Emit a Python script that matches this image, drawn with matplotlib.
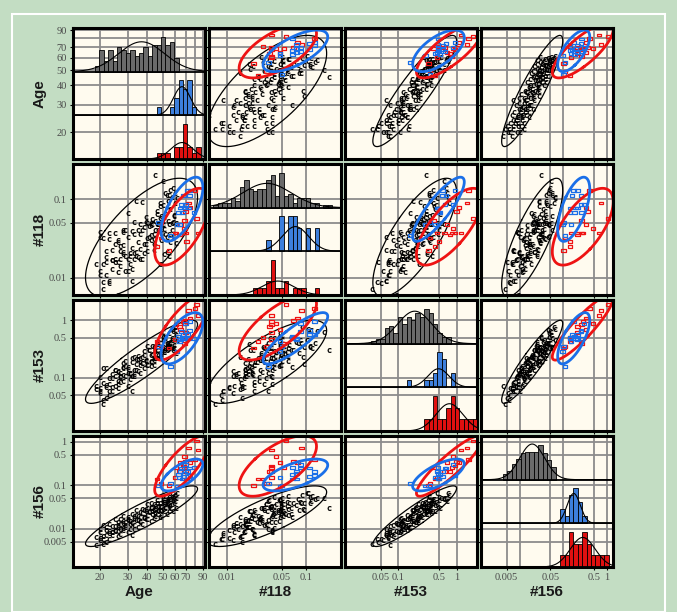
import numpy as np
import matplotlib
matplotlib.use('Agg')
import matplotlib.pyplot as plt
from matplotlib.ticker import NullLocator

# ---- data ----
names = ['Age', '#118', '#153', '#156']

# black group ("c" markers)
ctl_age = [19, 19, 20, 20, 20, 21, 21, 21, 22, 22, 22, 23, 23, 23, 24, 24, 24, 25, 25, 25,
           26, 26, 26, 27, 27, 28, 28, 28, 28, 29, 29, 30, 30, 31, 31, 32, 32, 33, 33, 34,
           34, 35, 35, 36, 36, 37, 37, 38, 39, 39, 40, 40, 41, 42, 42, 43, 44, 44, 45, 45,
           46, 46, 47, 47, 48, 48, 49, 49, 50, 50, 51, 51, 52, 52, 53, 53, 54, 54, 55, 55,
           55, 56, 56, 57, 57, 58, 58, 59, 60, 61, 62, 24, 30, 36, 42, 48, 27, 33, 38, 44,
           45, 26, 50, 21, 32,
           20, 22, 23, 25, 26, 27, 28, 29, 30, 31, 32, 33, 34, 35, 36, 37, 38, 39, 40, 41,
           42, 43, 44, 45, 46, 47, 48, 49, 50, 51, 52, 53, 54, 55, 56, 57, 58, 59, 60, 61]
ctl_118 = [0.0149, 0.0053, 0.0332, 0.0107, 0.0379, 0.0088, 0.0323, 0.0151, 0.0107, 0.0159,
           0.0184, 0.0374, 0.0085, 0.0314, 0.0167, 0.0130, 0.0222, 0.0264, 0.0371, 0.0159,
           0.0156, 0.0281, 0.0119, 0.0221, 0.0254, 0.0403, 0.0199, 0.0213, 0.0379, 0.0122,
           0.0408, 0.0123, 0.0668, 0.0187, 0.0208, 0.0389, 0.0130, 0.0518, 0.0173, 0.0957,
           0.0188, 0.0408, 0.0185, 0.0229, 0.0480, 0.0172, 0.0927, 0.0203, 0.0507, 0.0264,
           0.0319, 0.0490, 0.0329, 0.0462, 0.0350, 0.0475, 0.0265, 0.0313, 0.0533, 0.0401,
           0.0644, 0.0480, 0.0475, 0.0484, 0.0149, 0.0881, 0.0370, 0.0602, 0.0465, 0.0483,
           0.0583, 0.0200, 0.119, 0.0358, 0.112, 0.0214, 0.0811, 0.0520, 0.0190, 0.112,
           0.0362, 0.131, 0.0286, 0.107, 0.0500, 0.0343, 0.0510, 0.0602, 0.118, 0.0274,
           0.103, 0.0167, 0.0170, 0.0360, 0.0493, 0.0814, 0.0175, 0.0207, 0.0443, 0.0224,
           0.20, 0.006, 0.17, 0.0072, 0.009,
           0.012, 0.022, 0.009, 0.017, 0.030, 0.014, 0.026, 0.019, 0.033, 0.015,
           0.024, 0.036, 0.021, 0.028, 0.017, 0.040, 0.027, 0.060, 0.022, 0.045,
           0.030, 0.055, 0.036, 0.025, 0.070, 0.040, 0.058, 0.030, 0.085, 0.042,
           0.065, 0.033, 0.095, 0.048, 0.075, 0.040, 0.140, 0.062, 0.090, 0.050]
ctl_153 = [0.065, 0.072, 0.060, 0.066, 0.105, 0.042, 0.148, 0.082, 0.070, 0.045,
           0.150, 0.078, 0.050, 0.100, 0.100, 0.115, 0.060, 0.140, 0.140, 0.072,
           0.066, 0.125, 0.130, 0.084, 0.105, 0.150, 0.180, 0.112, 0.155, 0.107,
           0.200, 0.072, 0.155, 0.115, 0.120, 0.218, 0.110, 0.235, 0.135, 0.175,
           0.215, 0.239, 0.130, 0.190, 0.171, 0.180, 0.235, 0.150, 0.200, 0.205,
           0.362, 0.170, 0.310, 0.162, 0.200, 0.355, 0.207, 0.220, 0.360, 0.297,
           0.300, 0.385, 0.226, 0.250, 0.230, 0.398, 0.265, 0.245, 0.505, 0.350,
           0.285, 0.305, 0.335, 0.485, 0.358, 0.305, 0.410, 0.317, 0.385, 0.340,
           0.327, 0.400, 0.350, 0.718, 0.460, 0.325, 0.302, 0.335, 0.680, 0.267,
           0.460, 0.070, 0.143, 0.220, 0.250, 0.275, 0.110, 0.118, 0.296, 0.170,
           0.30, 0.09, 0.62, 0.035, 0.06,
           0.055, 0.075, 0.060, 0.110, 0.080, 0.120, 0.090, 0.160, 0.120, 0.095,
           0.190, 0.110, 0.140, 0.210, 0.120, 0.180, 0.250, 0.200, 0.170, 0.300,
           0.190, 0.260, 0.350, 0.220, 0.300, 0.420, 0.240, 0.330, 0.450, 0.280,
           0.520, 0.400, 0.350, 0.600, 0.420, 0.500, 0.650, 0.380, 0.750, 0.550]
ctl_156 = [0.0065, 0.0042, 0.0099, 0.0060, 0.0085, 0.0058, 0.0123, 0.0069, 0.0091, 0.0050,
           0.0108, 0.0090, 0.0059, 0.0126, 0.0082, 0.0115, 0.0072, 0.0165, 0.0093, 0.0113,
           0.0066, 0.0143, 0.0110, 0.0076, 0.0164, 0.0106, 0.0150, 0.0094, 0.0200, 0.0119,
           0.0145, 0.0084, 0.0182, 0.0148, 0.0096, 0.0218, 0.0133, 0.0197, 0.0123, 0.0275,
           0.0155, 0.0199, 0.0109, 0.0247, 0.0190, 0.0129, 0.0277, 0.0176, 0.0260, 0.0163,
           0.0362, 0.0203, 0.0259, 0.0147, 0.0319, 0.0255, 0.0172, 0.0371, 0.0234, 0.0330,
           0.0214, 0.0456, 0.0266, 0.0326, 0.0184, 0.0398, 0.0317, 0.0206, 0.0459, 0.0279,
           0.0407, 0.0254, 0.0560, 0.0315, 0.0398, 0.0217, 0.0485, 0.0373, 0.0250, 0.0539,
           0.0327, 0.0475, 0.0297, 0.0653, 0.0367, 0.0462, 0.0252, 0.0562, 0.0445, 0.0297,
           0.0658, 0.0082, 0.0168, 0.0143, 0.0392, 0.0275, 0.0129, 0.0098, 0.0269, 0.0265,
           0.030, 0.009, 0.052, 0.0045, 0.007,
           0.0055, 0.0070, 0.0078, 0.0088, 0.0120, 0.0100, 0.0135, 0.0110, 0.0160, 0.0125,
           0.0140, 0.0175, 0.0210, 0.0160, 0.0150, 0.0230, 0.0190, 0.0280, 0.0170, 0.0240,
           0.0300, 0.0220, 0.0290, 0.0200, 0.0380, 0.0250, 0.0340, 0.0270, 0.0420, 0.0360,
           0.0300, 0.0440, 0.0400, 0.0480, 0.0350, 0.0550, 0.0500, 0.0380, 0.0600, 0.0520]

# blue group
blu_age = [47, 56, 62, 63, 64, 65, 66, 67, 68, 69, 70, 72, 73, 74, 75, 79]
blu_118 = [0.050, 0.034, 0.047, 0.068, 0.047, 0.077, 0.086, 0.068, 0.112, 0.077, 0.086, 0.13,
           0.077, 0.112, 0.13, 0.068]
blu_153 = [0.35, 0.16, 0.29, 0.52, 0.43, 0.46, 0.64, 0.50, 0.57, 0.48, 0.87, 0.57, 0.48, 0.66,
           0.94, 0.48]
blu_156 = [0.10, 0.11, 0.096, 0.18, 0.15, 0.21, 0.25, 0.14, 0.16, 0.19, 0.30, 0.21, 0.14, 0.25,
           0.17, 0.26]

# red group
red_age = [46, 49, 55, 60, 61, 64, 65, 68, 69, 69, 70, 70, 71, 73, 75, 80, 82, 84]
red_118 = [0.025, 0.032, 0.022, 0.037, 0.037, 0.035, 0.047, 0.037, 0.042, 0.053, 0.070, 0.037,
           0.029, 0.089, 0.079, 0.13, 0.056, 0.037]
red_153 = [0.43, 0.35, 0.33, 0.46, 0.84, 0.78, 0.69, 0.94, 0.87, 0.40, 1.0, 0.62, 0.50, 1.5,
           1.1, 1.6, 1.9, 1.2]
red_156 = [0.14, 0.11, 0.10, 0.15, 0.26, 0.21, 0.33, 0.28, 0.47, 0.26, 0.36, 0.21, 0.14, 0.72,
           0.33, 0.40, 1.05, 0.65]

# axis set-up per variable
lims = [(13.5, 93), (0.006, 0.28), (0.012, 2.25), (0.0013, 1.37)]
tick_vals = [[20, 30, 40, 50, 60, 70, 90],
             [0.01, 0.05, 0.1],
             [0.05, 0.1, 0.5, 1],
             [0.005, 0.01, 0.05, 0.1, 0.5, 1]]
tick_labs = [['20', '30', '40', '50', '60', '70', '90'],
             ['0.01', '0.05', '0.1'],
             ['0.05', '0.1', '0.5', '1'],
             ['0.005', '0.01', '0.05', '0.1', '0.5', '1']]
xtick_vals = [[20, 30, 40, 50, 60, 70, 90], [0.01, 0.05, 0.1], [0.05, 0.1, 0.5, 1],
              [0.005, 0.05, 0.5, 1]]
xtick_labs = [['20', '30', '40', '50', '60', '70', '90'], ['0.01', '0.05', '0.1'],
              ['0.05', '0.1', '0.5', '1'], ['0.005', '0.05', '0.5', '1']]
grid_vals = [[20, 30, 40, 50, 60, 70, 80, 90],
             [0.01, 0.05, 0.1],
             [0.05, 0.1, 0.5, 1],
             [0.005, 0.01, 0.05, 0.1, 0.5, 1]]

groups = [
    dict(data=[ctl_age, ctl_118, ctl_153, ctl_156], color='black', hist='#6a6a6a', band=2),
    dict(data=[blu_age, blu_118, blu_153, blu_156], color='#1a6fe8', hist='#3d7fdc', band=1),
    dict(data=[red_age, red_118, red_153, red_156], color='#ee1313', hist='#e01010', band=0),
]

W, H = 677, 612
col_left = [73, 209, 345, 481]
row_top = [28, 164, 300, 436]
pw, ph = 132, 131
cream = '#fffbef'
gridc = '#8c8c8c'
tickfont = dict(family='Liberation Serif', size=7.5, color='#4a4a4a')

rect_marker = [(-1.6, -1), (1.6, -1), (1.6, 1), (-1.6, 1), (-1.6, -1)]


def ellipse(x, y):
    lx, ly = np.log10(x), np.log10(y)
    cov = np.cov(lx, ly)
    vals, vecs = np.linalg.eigh(cov)
    t = np.linspace(0, 2 * np.pi, 300)
    circ = np.vstack([np.cos(t), np.sin(t)]) * np.sqrt(vals)[:, None]
    pts = vecs @ circ * np.sqrt(5.991)
    return 10 ** (pts[0] + lx.mean()), 10 ** (pts[1] + ly.mean())


fig = plt.figure(figsize=(W / 100, H / 100), dpi=100, facecolor='#c3ddc3')
# thin white frame
fig.patches.append(plt.Rectangle((12 / W, 0), (665 - 12) / W, (H - 14) / H, fill=False,
                                 edgecolor='white', lw=1.5, transform=fig.transFigure,
                                 figure=fig))

for r in range(4):
    for c in range(4):
        pos = [col_left[c] / W, 1 - (row_top[r] + ph) / H, pw / W, ph / H]
        ax = fig.add_axes(pos)
        ax.set_facecolor(cream)
        ax.set_xscale('log')
        ax.set_yscale('log')
        ax.set_xlim(*lims[c])
        ax.set_ylim(*lims[r])
        for v in grid_vals[c]:
            ax.axvline(v, color=gridc, lw=1.3, zorder=0)
        for v in grid_vals[r]:
            ax.axhline(v, color=gridc, lw=1.3, zorder=0)
        ax.set_xticks(xtick_vals[c])
        ax.set_yticks(tick_vals[r])
        ax.xaxis.set_minor_locator(NullLocator())
        ax.yaxis.set_minor_locator(NullLocator())
        if r == 3:
            ax.set_xticklabels(xtick_labs[c], fontdict=tickfont)
        else:
            ax.set_xticklabels([])
        if c == 0:
            ax.set_yticklabels(tick_labs[r], fontdict=tickfont)
        else:
            ax.set_yticklabels([])
        ax.tick_params(length=2.5, width=0.8, pad=2)
        for s in ax.spines.values():
            s.set_linewidth(2.2)
            s.set_zorder(10)

        if r == c:
            # stacked histograms on a linear overlay
            ax2 = fig.add_axes(pos)
            ax2.set_xscale('log')
            ax2.set_xlim(*lims[c])
            ax2.set_ylim(0, 3)
            ax2.axis('off')
            lo, hi = np.log10(lims[c][0]), np.log10(lims[c][1])
            bins = np.logspace(lo, hi, 31)
            xs = np.logspace(lo, hi, 300)
            dlog = (hi - lo) / 30
            for g in groups:
                vals = np.array(g['data'][c])
                base = g['band']
                counts, edges = np.histogram(vals, bins)
                sc = 0.8 / counts.max()
                keep = counts > 0
                ax2.bar(edges[:-1][keep], counts[keep] * sc, width=np.diff(edges)[keep],
                        bottom=base, align='edge', color=g['hist'], edgecolor='black',
                        lw=0.6)
                lv = np.log10(vals)
                mu, sd = lv.mean(), lv.std(ddof=1)
                pdf = np.exp(-0.5 * ((np.log10(xs) - mu) / sd) ** 2) / (sd * np.sqrt(2 * np.pi))
                ax2.plot(xs, base + len(vals) * dlog * pdf * sc, color='black', lw=0.8)
                ax2.axhline(base, color='black', lw=1.3)
        else:
            g0, g1, g2 = groups
            x, y = np.array(g0['data'][c]), np.array(g0['data'][r])
            ax.scatter(x, y, marker='$\\mathrm{c}$', s=10, c='black', linewidths=0.35, zorder=3)
            ex, ey = ellipse(x, y)
            ax.plot(ex, ey, color='black', lw=0.9, zorder=4)
            for g in (g2, g1):
                x, y = np.array(g['data'][c]), np.array(g['data'][r])
                ax.scatter(x, y, marker=rect_marker, s=10, facecolors='none',
                           edgecolors=g['color'], linewidths=0.9, zorder=5)
                ex, ey = ellipse(x, y)
                ax.plot(ex, ey, color=g['color'], lw=2.0, zorder=6)

labfont = dict(family='Liberation Sans', size=11, weight='bold', color='#1a1a1a')
for i, n in enumerate(names):
    fig.text((col_left[i] + pw / 2) / W, 1 - 592 / H, n, ha='center', va='center', **labfont)
    fig.text(40 / W, 1 - (row_top[i] + ph / 2) / H, n, ha='center', va='center',
             rotation=90, **labfont)

fig.savefig('out.png', dpi=100, facecolor=fig.get_facecolor())
